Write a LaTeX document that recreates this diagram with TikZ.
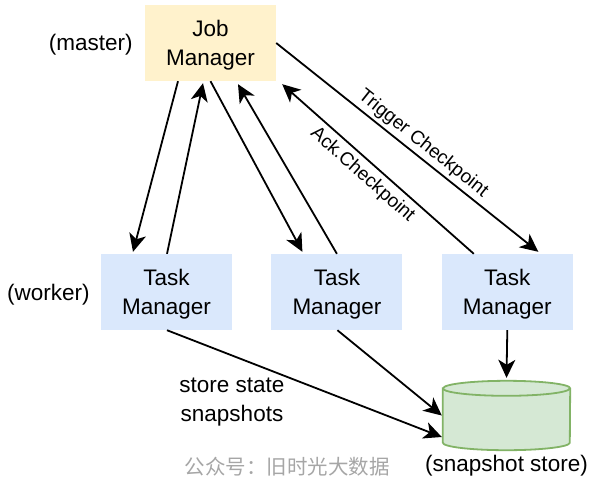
\documentclass[tikz,border=0pt]{standalone}
\usepackage{fontspec}
\setmainfont{Liberation Sans}
\newfontfamily\cjkfont{Noto Sans CJK SC}
\usetikzlibrary{positioning,arrows.meta}
\definecolor{JobYellow}{HTML}{FFF2CC}
\definecolor{TaskBlue}{HTML}{DAE8FC}
\definecolor{StoreGreen}{HTML}{D5E8D4}
\definecolor{StoreLine}{HTML}{82B366}
\definecolor{MarkGray}{HTML}{A6A6A6}

\begin{document}
\begin{tikzpicture}[
x=1pt,y=-1pt,
node distance=39pt,
box/.style={
rectangle,minimum width=131pt,minimum height=76pt,inner sep=0pt,text depth=0pt,
align=center,font=\fontsize{22.5}{29}\selectfont
},
tag/.style={inner sep=0pt,align=center,font=\fontsize{22.5}{29}\selectfont},
edgetag/.style={inner sep=0pt,font=\fontsize{19}{22}\selectfont,sloped},
arrow/.style={-{Stealth[length=18pt,width=17pt,inset=5pt]},line width=1.8pt}
]

\useasboundingbox (0,0) rectangle (597,491);

\node[box,fill=JobYellow] (jm) at (210.5,43) {Job\\Manager};
\node[box,fill=TaskBlue] (tm1) at (166.5,292) {Task\\Manager};
\node[box,fill=TaskBlue,right=of tm1] (tm2) {Task\\Manager};
\node[box,fill=TaskBlue,right=of tm2] (tm3) {Task\\Manager};
\node[minimum width=127pt,minimum height=69pt,inner sep=0pt] (store) at (506.5,415.5) {};

\path[fill=StoreGreen,draw=StoreLine,line width=1.8pt]
([yshift=-7.5pt]store.north west) -- ([yshift=7.5pt]store.south west)
arc[start angle=180,end angle=360,x radius=63.5pt,y radius=7.5pt]
-- ([yshift=-7.5pt]store.north east)
arc[start angle=0,end angle=180,x radius=63.5pt,y radius=7.5pt] -- cycle;
\draw[StoreLine,line width=1.8pt] ([yshift=-7.5pt]store.north west)
arc[start angle=180,end angle=360,x radius=63.5pt,y radius=7.5pt];

\node[tag,left=12pt of jm,yshift=-2pt] (master) {(master)};
\node[tag,left=11pt of tm1,yshift=-3pt] (worker) {(worker)};
\node[tag,below=5pt of store] (storetag) {(snapshot store)};
\node[tag] (snaptag) at (232,402) {store state\\snapshots};
\node[inner sep=0pt,text=MarkGray,font=\cjkfont\fontsize{20.5}{20.5}\selectfont] (mark) at (287,467) {公众号：旧时光大数据};

\draw[arrow] ([xshift=-32.5pt]jm.south) -- ([xshift=-33.5pt,yshift=2pt]tm1.north);
\draw[arrow] ([xshift=0.5pt]tm1.north) -- ([xshift=-7.5pt,yshift=-2pt]jm.south);
\draw[arrow] (jm.south) -- ([xshift=-34.5pt,yshift=2pt]tm2.north);
\draw[arrow] (tm2.north) -- ([xshift=27.5pt,yshift=-3pt]jm.south);
\draw[arrow] (jm.east) -- ([xshift=31pt,yshift=2pt]tm3.north)
node[edgetag,pos=0.53,above=3pt] {Trigger Checkpoint};
\draw[arrow] ([xshift=-33.5pt]tm3.north) -- ([xshift=6pt,yshift=-3pt]jm.south east)
node[edgetag,pos=0.53,below=5pt] {Ack.Checkpoint};
\draw[arrow] (tm3.south) -- ([yshift=3pt]store.north);
\draw[arrow] ([xshift=0.5pt]tm2.south) -- ([xshift=-1pt]store.west);
\draw[arrow] ([xshift=0.5pt]tm1.south) -- ([xshift=-1pt,yshift=-21.5pt]store.west);

\end{tikzpicture}
\end{document}
